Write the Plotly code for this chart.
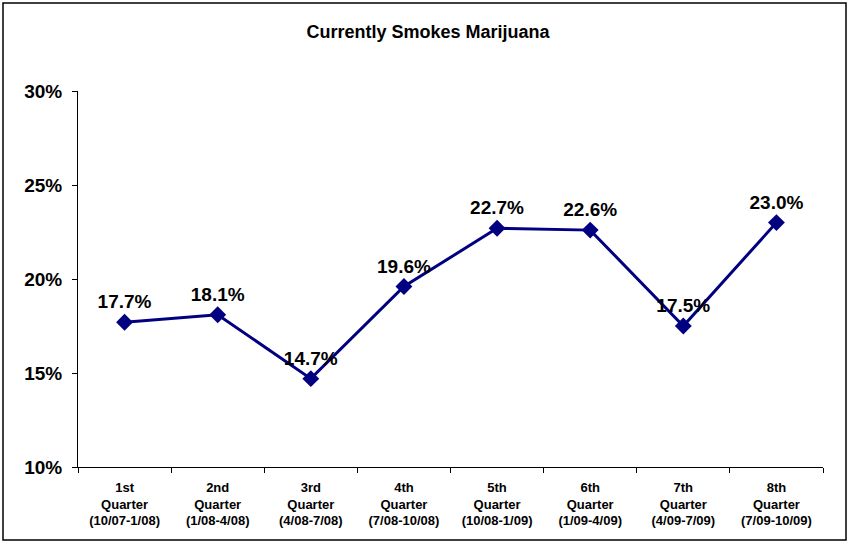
import plotly.graph_objects as go

categories = [
    "1st<br>Quarter<br>(10/07-1/08)",
    "2nd<br>Quarter<br>(1/08-4/08)",
    "3rd<br>Quarter<br>(4/08-7/08)",
    "4th<br>Quarter<br>(7/08-10/08)",
    "5th<br>Quarter<br>(10/08-1/09)",
    "6th<br>Quarter<br>(1/09-4/09)",
    "7th<br>Quarter<br>(4/09-7/09)",
    "8th<br>Quarter<br>(7/09-10/09)",
]
values = [17.7, 18.1, 14.7, 19.6, 22.7, 22.6, 17.5, 23.0]

W, H = 849, 543
L, R, T, B = 78, 26, 91, 76
pw, ph = W - L - R, H - T - B

font_family = "Liberation Sans, Arial, sans-serif"

fig = go.Figure(go.Scatter(
    x=categories, y=values, mode="lines+markers+text",
    line=dict(color="#000080", width=3),
    marker=dict(symbol="diamond", size=13, color="#000080"),
    text=[f"{v:.1f}%" for v in values],
    textposition="top center",
    textfont=dict(family=font_family, size=19, color="black", weight="bold"),
    cliponaxis=False,
    showlegend=False,
))

fig.update_layout(
    width=W, height=H,
    margin=dict(l=L, r=R, t=T, b=B),
    paper_bgcolor="white", plot_bgcolor="white",
    title=dict(text="Currently Smokes Marijuana", x=428 / W, xanchor="center",
               y=1 - 32 / H, yanchor="middle",
               font=dict(family=font_family, size=18, color="black", weight="bold")),
    font=dict(family=font_family, color="black"),
    xaxis=dict(
        showgrid=False, zeroline=False, showline=True, linecolor="black", linewidth=1,
        ticks="outside", tickson="boundaries", ticklen=5, tickcolor="black",
        tickfont=dict(family=font_family, size=13, color="black", weight="bold"),
        ticklabelstandoff=8,
        range=[-0.5, 7.5],
    ),
    yaxis=dict(
        range=[10, 30], dtick=5, ticksuffix="%",
        showgrid=False, zeroline=False, showline=True, linecolor="black", linewidth=1,
        ticks="outside", ticklen=5, tickcolor="black",
        tickfont=dict(family=font_family, size=19, color="black", weight="bold"),
        ticklabelstandoff=6,
    ),
    shapes=[dict(
        type="rect", xref="paper", yref="paper",
        x0=(3 - L) / pw, x1=(846 - L) / pw,
        y0=(H - B - 540) / ph, y1=(H - B - 3) / ph,
        line=dict(color="black", width=1.5), fillcolor="rgba(0,0,0,0)", layer="below",
    )],
)

fig.write_html("out.html", config={"displayModeBar": False},
               post_script="document.body.style.margin='0';document.body.style.overflow='hidden';")
